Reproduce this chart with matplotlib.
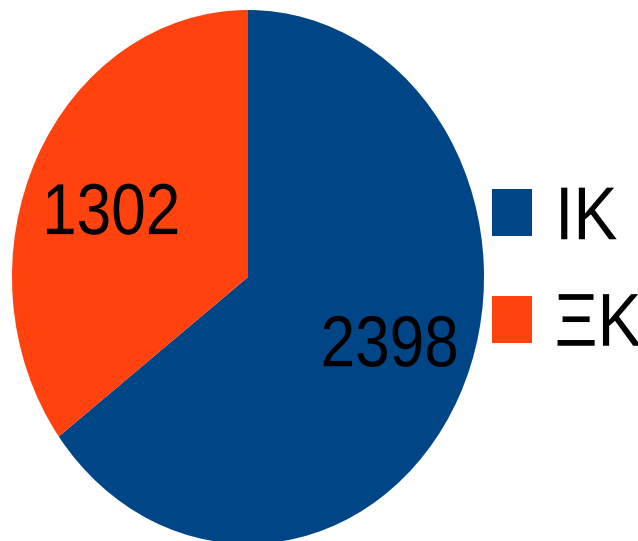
import matplotlib.pyplot as plt
import matplotlib as mpl
from matplotlib import patheffects
from matplotlib.transforms import Affine2D

mpl.rcParams['font.family'] = ['Liberation Sans', 'DejaVu Sans']

labels = ['IK', 'ΞK']
values = [2398, 1302]
colors = ['#004586', '#ff420e']


class HStretch(patheffects.AbstractPathEffect):
    """squeeze glyphs horizontally (the reference font is narrower)"""

    def __init__(self, sx, anchor='center'):
        super().__init__()
        self.sx = sx
        self.anchor = anchor

    def draw_path(self, renderer, gc, tpath, affine, rgbFace=None):
        ext = tpath.get_extents()
        cx = (ext.x0 + ext.x1) / 2 if self.anchor == 'center' else ext.x0
        pre = Affine2D().translate(-cx, 0).scale(self.sx, 1).translate(cx, 0)
        renderer.draw_path(gc, tpath, pre + affine, rgbFace)


W, H = 638, 541
fig = plt.figure(figsize=(W / 100, H / 100), dpi=100)
# pie ellipse spans x 12..484 px, y 10..544 px (from top)
ax = fig.add_axes([12 / W, (H - 544) / H, 472 / W, 534 / H])

wedges, texts = ax.pie(values, colors=colors, startangle=90, counterclock=False,
                       radius=1, wedgeprops=dict(linewidth=0))
ax.set_aspect('auto')
ax.set_xlim(-1, 1)
ax.set_ylim(-1, 1)
ax.axis('off')

# value labels
squeeze = [HStretch(0.86)]
ax.text(-0.58, 0.23, str(values[1]), fontsize=52, ha='center', va='center',
        path_effects=squeeze)
ax.text(0.6, -0.265, str(values[0]), fontsize=52, ha='center', va='center',
        path_effects=squeeze)

leg = fig.legend(wedges, labels, loc='center left', bbox_to_anchor=(492 / W, 1 - 273 / H),
                 fontsize=54, frameon=False, handlelength=0.53, handleheight=0.59,
                 handletextpad=0.3, labelspacing=0.5, borderpad=0, borderaxespad=0)
for t in leg.get_texts():
    t.set_path_effects([HStretch(0.88, anchor='left')])

fig.savefig('out.png', dpi=100)
